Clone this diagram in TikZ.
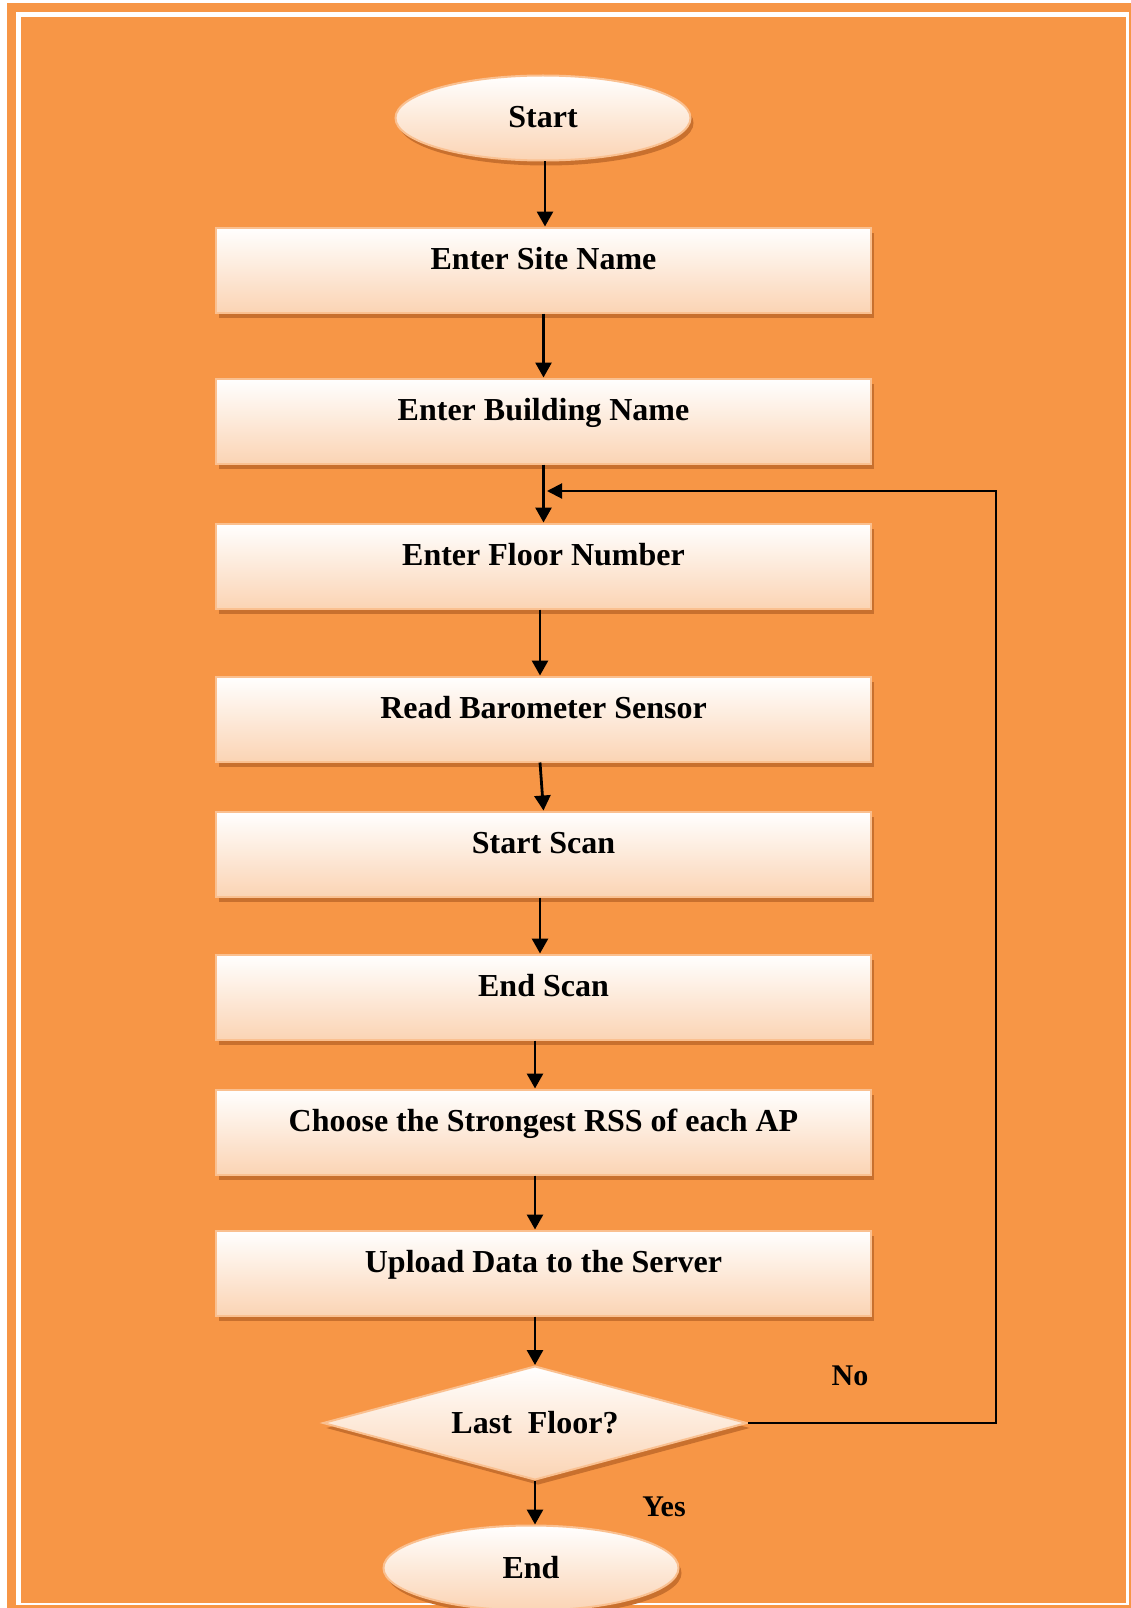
\documentclass[tikz,border=0pt]{standalone}
\usepackage{fontspec}
\setmainfont{Liberation Serif}
\usetikzlibrary{shapes.geometric,shadows,arrows.meta,calc}
\definecolor{bgorange}{HTML}{F79646}
\definecolor{peach}{HTML}{FBD4B4}
\definecolor{edgec}{HTML}{FAC090}
\definecolor{shadowc}{HTML}{C8702E}
\begin{document}
\begin{tikzpicture}[x=1pt,y=-1pt,
  myshadow/.style={drop shadow={shadow xshift=3pt, shadow yshift=-5pt, fill=shadowc, opacity=1}},
  shapefill/.style={draw=edgec, line width=2pt, top color=white, bottom color=peach, myshadow},
  boxstyle/.style={rectangle, shapefill, minimum width=655pt, minimum height=85pt,
    font=\fontsize{32}{38}\selectfont\bfseries, text height=21pt, text depth=23pt},
  termstyle/.style={ellipse, shapefill, minimum width=295pt, minimum height=85pt, inner sep=0pt,
    font=\fontsize{32}{38}\selectfont\bfseries, text height=20pt, text depth=0pt},
  decstyle/.style={diamond, shapefill, aspect=3.7, minimum width=424pt, minimum height=114pt, inner sep=0pt,
    font=\fontsize{32}{38}\selectfont\bfseries, text height=20pt, text depth=0pt},
  lbl/.style={font=\fontsize{30}{36}\selectfont\bfseries, inner sep=0pt},
  arr/.style={line width=2.8pt, -{Triangle[length=15pt,width=16pt]}},
  loopline/.style={line width=2pt, -{Triangle[length=15pt,width=15pt]}}
]
\useasboundingbox (0,0) rectangle (1131,1608);
% frame
\fill[white] (0,0) rectangle (1131,1608);
\fill[bgorange] (7,3) rectangle (1131,1608);
\fill[white] (16,12) rectangle (1129,1605);
\fill[bgorange] (21,17) rectangle (1126,1603);

% nodes
\node[termstyle] (start) at (543,118) {Start};
\node[boxstyle] (site) at (543.5,270) {Enter Site Name};
\node[boxstyle] (bldg) at (543.5,421) {Enter Building Name};
\node[boxstyle] (floor) at (543.5,566) {Enter Floor Number};
\node[boxstyle] (baro) at (543.5,719) {Read Barometer Sensor};
\node[boxstyle] (sscan) at (543.5,854) {Start Scan};
\node[boxstyle] (escan) at (543.5,997) {End Scan};
\node[boxstyle] (choose) at (543.5,1132) {Choose the Strongest RSS of each AP};
\node[boxstyle] (upload) at (543.5,1273) {Upload Data to the Server};
\node[decstyle] (last) at (535,1423) {Last\ \ Floor?};
\node[termstyle] (end) at (531,1568) {End};

\node[lbl] (no) at (850,1376) {No};
\node[lbl] (yes) at (664,1507) {Yes};

% connectors
\draw[arr] ([xshift=2pt]start.south) -- ([xshift=1.5pt]site.north);
\draw[arr] (site.south) -- (bldg.north);
\draw[arr] (bldg.south) -- (floor.north);
\draw[arr] ([xshift=-3.5pt]floor.south) -- ([xshift=-3.5pt]baro.north);
\draw[arr] ([xshift=-3.5pt]baro.south) -- (sscan.north);
\draw[arr] ([xshift=-3.5pt]sscan.south) -- ([xshift=-3.5pt]escan.north);
\draw[arr] ([xshift=-8.5pt]escan.south) -- ([xshift=-8.5pt]choose.north);
\draw[arr] ([xshift=-8.5pt]choose.south) -- ([xshift=-8.5pt]upload.north);
\draw[arr] ([xshift=-8.5pt]upload.south) -- (last.north);
\draw[arr] (last.south) -- ([xshift=4pt]end.north);

\coordinate (loopcorner) at (996,491);
\coordinate (loopend) at (547,491);
\draw[loopline] (last.east) -| (loopcorner) -- (loopend);
\end{tikzpicture}
\end{document}
